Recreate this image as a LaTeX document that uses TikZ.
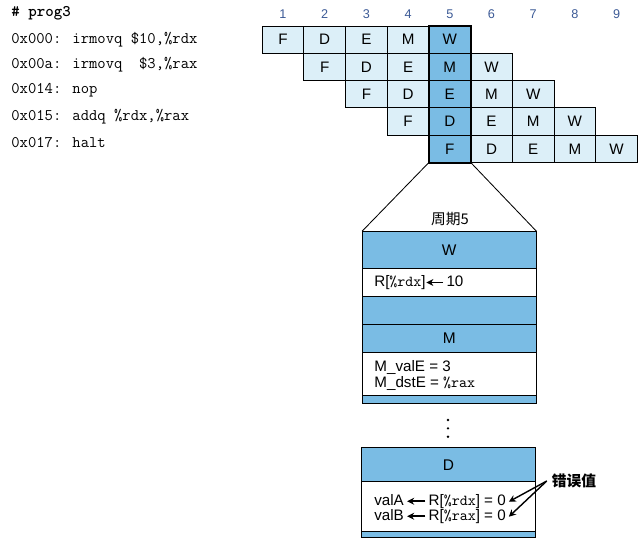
\documentclass[tikz,border=0pt]{standalone}
\usepackage{fontspec}
\setmainfont{Liberation Sans}
\newfontfamily\cjk{Noto Sans CJK SC}
\usetikzlibrary{arrows.meta}
\definecolor{cellblue}{RGB}{220,239,248}
\definecolor{hotblue}{RGB}{122,188,228}
\definecolor{numblue}{RGB}{60,90,150}
\newcommand{\larr}[1]{\tikz[baseline=-0.55ex]\draw[line width=1.1pt,-{Stealth[length=5pt,width=5pt]}] (#1pt,0pt) -- (0pt,0pt);}

\begin{document}
\begin{tikzpicture}[x = 0.025cm, y = -0.025cm, line width = 0.6pt,
                        cell/.style = {draw, fill = cellblue, minimum width = 1.0425cm, minimum height = 0.6825cm, inner sep = 0pt, font = \fontsize{10.8}{12}\selectfont},
                        hot/.style = {cell, fill = hotblue},
                        band/.style = {draw, fill = hotblue, minimum width = 4.3375cm, inner sep = 0pt, font = \fontsize{11}{12}\selectfont},
                        whiteband/.style = {band, fill = white},
                        txt/.style = {anchor = west, inner sep = 0pt, font = \fontsize{10.8}{12}\selectfont},
                        code/.style = {anchor = west, inner sep = 0pt, font = \ttfamily\fontsize{11.5}{14}\selectfont},
                        num/.style = {text = numblue, font = \fontsize{9}{10}\selectfont}]
      \useasboundingbox (0, 0) rectangle (643, 540);

      % program listing
      \node [code] (l0) at (11, 13.3) {\bfseries \# prog3};
      \node [code] (l1) at (11, 39.3) {0x000: irmovq \$10,\%rdx};
      \node [code] (l2) at (11, 65) {0x00a: irmovq \ \$3,\%rax};
      \node [code] (l3) at (11, 90.7) {0x014: nop};
      \node [code] (l4) at (11, 116.7) {0x015: addq \%rdx,\%rax};
      \node [code] (l5) at (11, 142.7) {0x017: halt};

      % cycle numbers
      \node [num] (c1) at (283.0, 14) {1};
      \node [num] (c2) at (324.7, 14) {2};
      \node [num] (c3) at (366.4, 14) {3};
      \node [num] (c4) at (408.1, 14) {4};
      \node [num] (c5) at (449.8, 14) {5};
      \node [num] (c6) at (491.5, 14) {6};
      \node [num] (c7) at (533.2, 14) {7};
      \node [num] (c8) at (574.9, 14) {8};
      \node [num] (c9) at (616.6, 14) {9};

      % pipeline stages
      \node [cell] (f1) at (283.0, 39.6){F};
      \node [cell] (d1) at (324.7, 39.6){D};
      \node [cell] (e1) at (366.4, 39.6){E};
      \node [cell] (m1) at (408.1, 39.6){M};
      \node [hot]  (w1) at (449.8, 39.6){W};

      \node [cell] (f2) at (324.7, 66.9){F};
      \node [cell] (d2) at (366.4, 66.9){D};
      \node [cell] (e2) at (408.1, 66.9){E};
      \node [hot]  (m2) at (449.8, 66.9){M};
      \node [cell] (w2) at (491.5, 66.9){W};

      \node [cell] (f3) at (366.4, 94.2){F};
      \node [cell] (d3) at (408.1, 94.2){D};
      \node [hot]  (e3) at (449.8, 94.2){E};
      \node [cell] (m3) at (491.5, 94.2){M};
      \node [cell] (w3) at (533.2, 94.2){W};

      \node [cell] (f4) at (408.1, 121.5){F};
      \node [hot]  (d4) at (449.8, 121.5){D};
      \node [cell] (e4) at (491.5, 121.5){E};
      \node [cell] (m4) at (533.2, 121.5){M};
      \node [cell] (w4) at (574.9, 121.5){W};

      \node [hot]  (f5) at (449.8, 148.8){F};
      \node [cell] (d5) at (491.5, 148.8){D};
      \node [cell] (e5) at (533.2, 148.8){E};
      \node [cell] (m5) at (574.9, 148.8){M};
      \node [cell] (w5) at (616.6, 148.8){W};

      \draw [line width = 1pt] (w1.north west) rectangle (f5.south east);

      % cycle 5 panel
      \node [font = \cjk\fontsize{10.5}{12}\selectfont] (cyc) at (450, 219) {周期5};
      \node [band, minimum height = 0.915cm] (pw) at (449.25, 250) {W};
      \node [whiteband, minimum height = 0.6925cm] (pr) at (449.25, 282.15) {};
      \node [band, minimum height = 0.7075cm] (pb) at (449.25, 310.15) {};
      \node [band, minimum height = 0.71cm] (pm) at (449.25, 338.5) {M};
      \node [whiteband, minimum height = 1.0575cm] (pv) at (449.25, 373.85) {};
      \node [band, minimum height = 0.2075cm] (ps) at (449.25, 399.15) {};

      \node [txt] (wr) at (374, 283) {R[\texttt{\%rdx}]\larr{12}\,10};
      \node [txt] (mv) at (374, 367.7) {M\_valE = 3};
      \node [txt] (md) at (374, 383) {M\_dstE = \texttt{\%rax}};

      \draw (f5.south west) -- (pw.north west);
      \draw (f5.south east) -- (pw.north east);

      \fill (448, 420) circle (1.3);
      \fill (448, 428.3) circle (1.3);
      \fill (448, 436.7) circle (1.3);

      \node [band, minimum height = 0.85cm] (pd) at (448.5, 464.7) {D};
      \node [whiteband, minimum height = 1.25cm] (pe) at (448.5, 506.7) {};
      \node [band, minimum height = 0.1325cm] (pz) at (448.5, 534.35) {};

      \node [txt] (va) at (374, 501.7) {valA\,\larr{13}\,R[\texttt{\%rdx}] = 0};
      \node [txt] (vb) at (374, 516.7) {valB\,\larr{13}\,R[\texttt{\%rax}] = 0};

      \node [font = \cjk\bfseries\fontsize{10.5}{12}\selectfont] (err) at (574, 481) {错误值};
      \draw [line width = 1pt, -{Stealth[length = 5pt, width = 5pt]}] (err.west) -- ([xshift = 2pt]va.east);
      \draw [line width = 1pt, -{Stealth[length = 5pt, width = 5pt]}] (err.west) -- ([xshift = 2pt]vb.east);

      \end{tikzpicture}
\end{document}
